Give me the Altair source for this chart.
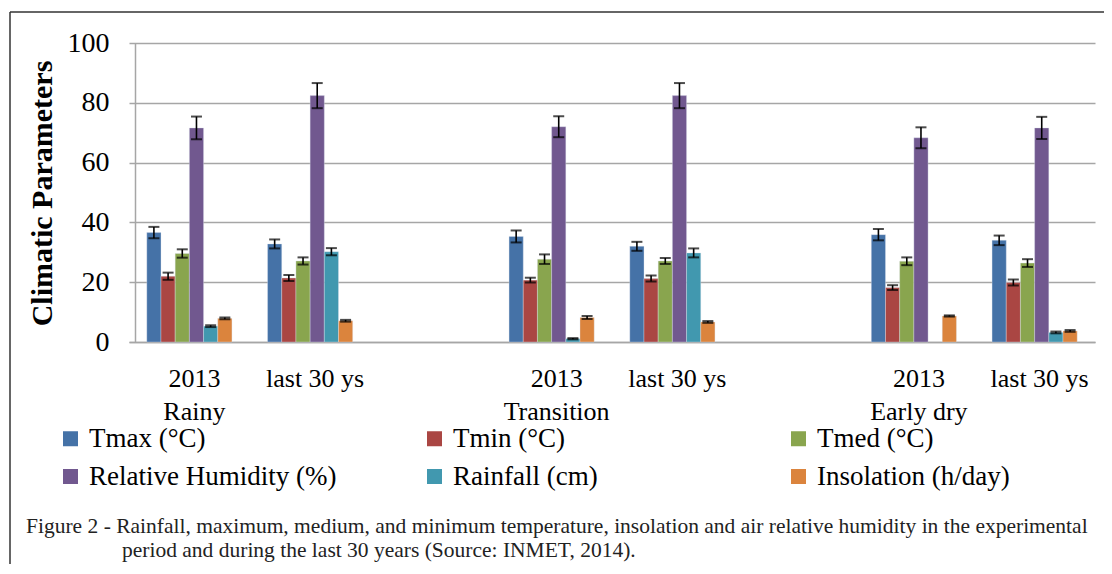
import altair as alt
import pandas as pd

# ---- data -------------------------------------------------------------
x_keys = ["R13", "R30", "G1", "T13", "T30", "G2", "E13", "E30"]
period_labels = ["2013", "last 30 ys", "", "2013", "last 30 ys", "", "2013", "last 30 ys"]
season_labels = ["Rainy", "", "", "Transition", "", "", "Early dry", ""]
data_keys = ["R13", "R30", "T13", "T30", "E13", "E30"]

params = ["Tmax (°C)", "Tmin (°C)", "Tmed (°C)", "Relative Humidity (%)",
          "Rainfall (cm)", "Insolation (h/day)"]
colors = ["#4572A7", "#AA4643", "#89A54E", "#71588F", "#4198AF", "#DB843D"]

tmax = [36.6, 32.8, 35.3, 32.0, 35.9, 34.0]
tmin = [22.0, 21.4, 20.7, 21.2, 18.2, 19.9]
tmed = [29.6, 27.1, 27.7, 27.1, 27.0, 26.4]
rh = [71.6, 82.4, 72.0, 82.4, 68.3, 71.6]
rain = [5.3, 30.2, 1.1, 29.8, None, 3.2]
insol = [7.9, 7.1, 8.2, 6.7, 8.7, 3.7]

tmax_err = [1.9, 1.5, 2.0, 1.5, 1.9, 1.6]
tmin_err = [1.2, 1.0, 0.8, 1.0, 0.8, 1.0]
tmed_err = [1.4, 1.2, 1.6, 1.0, 1.3, 1.3]
rh_err = [3.8, 4.2, 3.5, 4.2, 3.5, 3.7]
rain_err = [0.3, 1.2, 0.2, 1.5, None, 0.3]
insol_err = [0.3, 0.3, 0.5, 0.3, 0.2, 0.3]

caption_1 = ("Figure 2 - Rainfall, maximum, medium, and minimum temperature, insolation "
             "and air relative humidity in the experimental")
caption_2 = "period and during the last 30 years (Source: INMET, 2014)."

# ---- table ------------------------------------------------------------
series_values = [tmax, tmin, tmed, rh, rain, insol]
series_errors = [tmax_err, tmin_err, tmed_err, rh_err, rain_err, insol_err]
rows = []
for p, vals, errs in zip(params, series_values, series_errors):
    for k, v, e in zip(data_keys, vals, errs):
        if v is None:
            continue
        rows.append({"cat": k, "param": p, "value": v, "lo": v - e, "hi": v + e})
df = pd.DataFrame(rows)

# label expression (two-line labels)
expr = "''"
for k, p, s in reversed(list(zip(x_keys, period_labels, season_labels))):
    if s:
        lab = f"['{p}', '{s}']"
    else:
        lab = f"'{p}'"
    expr = f"datum.value === '{k}' ? {lab} : ({expr})"

FONT = "Liberation Serif, Times New Roman, serif"

xscale = alt.Scale(domain=x_keys, range=[-6, 960], paddingInner=0.295, paddingOuter=0.1475)
x_enc = alt.X(
    "cat:N",
    scale=xscale,
    axis=alt.Axis(
        title=None, ticks=False, labelExpr=expr, labelFontSize=26, labelFont=FONT,
        labelPadding=23, labelLineHeight=33, labelAngle=0,
        labelOverlap=False, labelOffset=5, labelLimit=300, grid=False,
    ),
)
xoff = alt.XOffset("param:N", scale=alt.Scale(domain=params, paddingInner=0, paddingOuter=0))
yscale = alt.Scale(domain=[0, 100], nice=False)

bars = alt.Chart(df).mark_bar(stroke="#DCE3EE", strokeWidth=0.6, strokeOpacity=0.6).encode(
    x=x_enc,
    xOffset=xoff,
    y=alt.Y(
        "value:Q", scale=yscale,
        axis=alt.Axis(
            values=[0, 20, 40, 60, 80, 100], title="Climatic Parameters", ticks=False,
            labelFontSize=28, labelFont=FONT, labelPadding=26, grid=True,
            titleFontSize=30, titleFontWeight="bold",
            titleX=-93, titleY=150, titleAngle=270, titleBaseline="middle", titleAlign="center",
        ),
    ),
    color=alt.Color(
        "param:N",
        scale=alt.Scale(domain=params, range=colors),
        legend=alt.Legend(
            title=None, orient="none", legendX=-78, legendY=382, direction="horizontal",
            columns=3, gridAlign="all", columnPadding=84, rowPadding=10,
            symbolType="square", symbolSize=225, symbolStrokeWidth=0, symbolOpacity=1,
            labelFontSize=27, labelFont=FONT, labelOffset=5, labelLimit=400, padding=0,
        ),
    ),
)

err_rule = alt.Chart(df).mark_rule(color="black", strokeWidth=1.6).encode(
    x="cat:N", xOffset="param:N", y=alt.Y("lo:Q", scale=yscale), y2="hi:Q"
)
cap_lo = alt.Chart(df).mark_tick(color="black", thickness=2, size=11).encode(
    x="cat:N", xOffset="param:N", y=alt.Y("lo:Q", scale=yscale)
)
cap_hi = alt.Chart(df).mark_tick(color="black", thickness=2, size=11).encode(
    x="cat:N", xOffset="param:N", y=alt.Y("hi:Q", scale=yscale)
)

one = alt.Data(values=[{"a": 1}])
frame_top = alt.Chart(one).mark_rule(color="#333333", strokeWidth=1.5).encode(
    x=alt.value(-125), x2=alt.value(990), y=alt.value(-31)
)
frame_left = alt.Chart(one).mark_rule(color="#333333", strokeWidth=1.5).encode(
    x=alt.value(-125), y=alt.value(-31), y2=alt.value(540)
)
cap1 = alt.Chart(one).mark_text(
    text=caption_1, font=FONT, fontSize=21.5, color="#222222", align="left", baseline="middle"
).encode(x=alt.value(-109), y=alt.value(484))
cap2 = alt.Chart(one).mark_text(
    text=caption_2, font=FONT, fontSize=21.5, color="#222222", align="left", baseline="middle"
).encode(x=alt.value(-13), y=alt.value(508))

chart = alt.layer(bars, err_rule, cap_lo, cap_hi, frame_top, frame_left, cap1, cap2).properties(
    width=968, height=299,
    padding={"left": 127, "top": 35, "right": 1, "bottom": 222},
    autosize=alt.AutoSizeParams(type="none"),
).configure(
    font=FONT
).configure_view(
    stroke=None
).configure_axis(
    labelFont=FONT, labelColor="black", titleFont=FONT, titleColor="black",
    domainColor="#A6A6A6", domainWidth=1.5, gridColor="#A6A6A6", gridWidth=1.5,
).configure_legend(
    labelFont=FONT, labelColor="black",
).configure_text(font=FONT)

chart.save("out.html", embed_options={"renderer": "svg", "actions": False})
